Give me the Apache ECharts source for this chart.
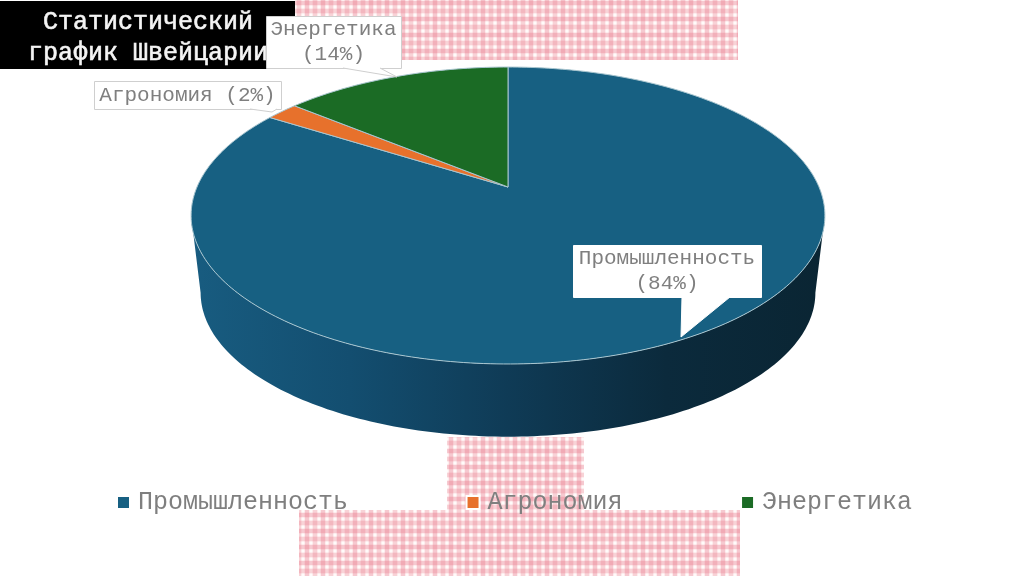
<!DOCTYPE html>
<html>
<head>
<meta charset="utf-8">
<style>
  html, body { margin: 0; padding: 0; background: #fff; }
  #main { width: 1024px; height: 576px; }
</style>
<script src="https://cdn.jsdelivr.net/npm/echarts@6/dist/echarts.min.js"></script>
</head>
<body>
<div id="main"></div>
<script>
const categories = ['Промышленность', 'Агрономия', 'Энергетика'];
const values = [84, 2, 14];
const colors = ['#176082', '#e7712c', '#1b6b25'];
const titleLines = ['Статистический', 'график Швейцарии'];

// callouts: box x,y,w,h and the tail triangle (base, base, tip)
const callouts = [
  { box: [573, 245, 188, 52], tail: [[682, 297], [730, 297], [681, 337]], lines: 2 },
  { box: [94, 81, 187, 28], tail: [[250, 109], [277, 109], [272, 112]], lines: 1 },
  { box: [266, 16, 135, 52], tail: [[343, 68], [380, 68], [397, 77]], lines: 2 }
];

// the pie is a tilted disc, so the apex sits above the middle of the ellipse
const apex = [508, 187];
const tilt = 0.192;
const radX = 311;
const radY = 143;
const sideScale = 0.97;
const sideDrop = 78;
const total = values.reduce((a, b) => a + b, 0);
// rim angle where the disc is widest, the wall starts there
const wallFrom = Math.acos(-tilt) * 180 / Math.PI;
const wallTo = 360 - wallFrom;

function rimPoint(deg, scale, drop) {
  const t = deg * Math.PI / 180;
  const u = Math.sin(t);
  const v = -Math.cos(t);
  const w = 1 - tilt * v;
  return [apex[0] + scale * radX * u / w, apex[1] + drop + scale * radY * v / w];
}

function arc(from, to, scale, drop) {
  const pts = [];
  const n = Math.max(2, Math.ceil(Math.abs(to - from)));
  for (let i = 0; i <= n; i++) {
    pts.push(rimPoint(from + (to - from) * i / n, scale, drop));
  }
  return pts;
}

const sideFill = new echarts.graphic.LinearGradient(191, 0, 825, 0, [
  { offset: 0, color: '#185c80' },
  { offset: 0.25, color: '#134e70' },
  { offset: 0.5, color: '#0f3b56' },
  { offset: 0.75, color: '#0b2a3c' },
  { offset: 1, color: '#0a2533' }
], true);

function renderSector(index) {
  return function (params, api) {
    const val = api.value(0);
    const before = values.slice(0, index).reduce((a, b) => a + b, 0);
    const start = before / total * 360;
    const end = start + val / total * 360;
    const kids = [];

    // front wall, only the part of the sector facing the viewer
    const from = Math.max(start, wallFrom);
    const to = Math.min(end, wallTo);
    if (to > from) {
      kids.push({
        type: 'polygon',
        shape: { points: arc(from, to, 1, 0).concat(arc(to, from, sideScale, sideDrop)) },
        style: { fill: sideFill }
      });
    }
    kids.push({
      type: 'polygon',
      shape: { points: [apex].concat(arc(start, end, 1, 0)) },
      style: { fill: colors[index], stroke: '#a9c6d0', lineWidth: 1, lineJoin: 'round' }
    });
    return { type: 'group', children: kids };
  };
}

function renderCallout(params, api) {
  const i = api.value(0);
  const c = callouts[i];
  const pct = '(' + values[i] + '%)';
  const text = c.lines === 2 ? categories[i] + '\n' + pct : categories[i] + ' ' + pct;
  return {
    type: 'group',
    children: [
      {
        type: 'rect',
        shape: { x: c.box[0] + 0.5, y: c.box[1] + 0.5, width: c.box[2], height: c.box[3] },
        style: { fill: '#fff', stroke: i === 0 ? '#fff' : '#cfcfcf', lineWidth: 1 }
      },
      {
        type: 'polygon',
        shape: { points: c.tail },
        style: { fill: '#fff' }
      },
      {
        type: 'polyline',
        shape: { points: [c.tail[0], c.tail[2], c.tail[1]] },
        style: { fill: 'none', stroke: i === 0 ? '#fff' : '#cfcfcf', lineWidth: 1 }
      },
      {
        type: 'text',
        style: {
          text: text,
          x: c.box[0] + c.box[2] / 2,
          y: c.box[1] + c.box[3] / 2,
          align: 'center',
          verticalAlign: 'middle',
          font: '21px "Liberation Mono"',
          lineHeight: 25,
          fill: '#7f7f7f'
        }
      }
    ]
  };
}

// pink gingham tile for the blocks behind the chart
function ginghamTile() {
  const tile = document.createElement('canvas');
  tile.width = 16;
  tile.height = 16;
  const ctx = tile.getContext('2d');
  ctx.fillStyle = '#fffbfa';
  ctx.fillRect(0, 0, 16, 16);
  [[0, 0.30], [8, 0.22]].forEach(b => {
    ctx.fillStyle = 'rgba(232,120,138,0.10)';
    ctx.fillRect(b[0], 0, 6, 16);
    ctx.fillRect(0, b[0], 16, 6);
    ctx.fillStyle = 'rgba(232,120,138,' + b[1] + ')';
    ctx.fillRect(b[0] + 1, 0, 4, 16);
    ctx.fillRect(0, b[0] + 1, 16, 4);
  });
  return tile;
}

const tile = ginghamTile();
const blocks = [
  [295, 0, 443, 60],
  [447, 437, 137, 73],
  [299, 510, 441, 66]
];

const graphicItems = blocks.map(b => ({
  type: 'rect',
  z: 0,
  shape: { x: b[0], y: b[1], width: b[2], height: b[3] },
  style: { fill: { image: tile, repeat: 'repeat' } }
}));
graphicItems.push({
  type: 'rect',
  z: 1,
  shape: { x: 0, y: 1, width: 295, height: 68 },
  style: { fill: '#000' }
});
titleLines.forEach((line, i) => {
  graphicItems.push({
    type: 'text',
    z: 1,
    style: {
      text: line,
      x: 148,
      y: 22 + i * 31,
      align: 'center',
      verticalAlign: 'middle',
      font: '25px "Liberation Mono"',
      fill: '#f4f4f4',
      stroke: '#f4f4f4',
      lineWidth: 0.6
    }
  });
});

const series = categories.map((name, i) => ({
  type: 'custom',
  name: name,
  coordinateSystem: 'none',
  silent: true,
  z: 3,
  itemStyle: { color: colors[i] },
  renderItem: renderSector(i),
  data: [[values[i]]]
}));
series.push({
  type: 'custom',
  coordinateSystem: 'none',
  silent: true,
  z: 4,
  renderItem: renderCallout,
  data: categories.map((c, i) => [i])
});

const chart = echarts.init(document.getElementById('main'));
chart.setOption({
  backgroundColor: '#fff',
  animation: false,
  graphic: { elements: graphicItems },
  legend: {
    data: categories,
    left: 111,
    top: 485,
    icon: 'rect',
    itemWidth: 13,
    itemHeight: 13,
    itemGap: 117.5,
    selectedMode: false,
    itemStyle: { borderColor: '#fff', borderWidth: 2 },
    textStyle: {
      fontFamily: 'Liberation Mono',
      fontSize: 25,
      color: '#7f7f7f',
      padding: [0, 0, 0, 3]
    }
  },
  series: series
});
</script>
</body>
</html>
